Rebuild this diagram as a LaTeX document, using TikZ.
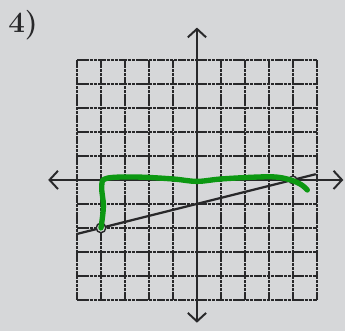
\documentclass[tikz,border=0pt]{standalone}
\usepackage{amsmath, amssymb}
\usepackage{tikz}
\usetikzlibrary{arrows.meta}
\definecolor{paper}{RGB}{214,215,217}
\definecolor{ink}{RGB}{40,40,42}
\definecolor{marker}{RGB}{12,152,18}

\begin{document}
\begin{tikzpicture}[scale=0.6,
  gridline/.style={ink, line width=0.9pt, dash pattern=on 2.5pt off 0.5pt},
  axis/.style={ink, line width=1.4pt, {Straight Barb[length=6pt,width=13pt]}-{Straight Barb[length=6pt,width=13pt]}},
  graphline/.style={ink, line width=1.6pt},
  hole/.style={ink, line width=1pt, fill=paper},
  pen/.style={marker, line width=3.8pt, line cap=round, line join=round}]

\fill[paper] (-8.21,-6.29) rectangle (6.17,7.5);
\useasboundingbox (-8.21,-6.29) rectangle (6.17,7.5);

\node[ink, font=\fontsize{21}{24}\selectfont\bfseries] (num) at (-7.25,6.45) {4)};

% grid
\foreach \a in {-5,-4,...,5} {
  \draw[gridline] (\a,-5) -- (\a,5);
  \draw[gridline] (-5,\a) -- (5,\a);
}

% axes
\coordinate (xl) at (-6.2,0);
\coordinate (xr) at (6.1,0);
\coordinate (yt) at (0,6.35);
\coordinate (yb) at (0,-5.95);
\draw[axis] (xl) -- (xr);
\draw[axis] (yb) -- (yt);

% line y = x/4 - 1
\coordinate (L) at (-5,-2.25);
\coordinate (R) at (4.95,0.24);
\coordinate (A) at (-4,-2);
\coordinate (B) at (4,0);
\draw[graphline] (L) -- (R);
\draw[hole] (A) circle (0.2);
\draw[hole] (B) circle (0.16);

% green marker
\draw[pen] plot[smooth, tension=0.6] coordinates {
  (A) (-3.9,-1.1) (-3.97,-0.25) (-3.75,0.07) (-2.5,0.12) (-1,0.04)
  (0,-0.06) (1,0.04) (2.5,0.12) (3.3,0.12) (3.9,0.0) (4.35,-0.2) (4.6,-0.42)};

\end{tikzpicture}
\end{document}
